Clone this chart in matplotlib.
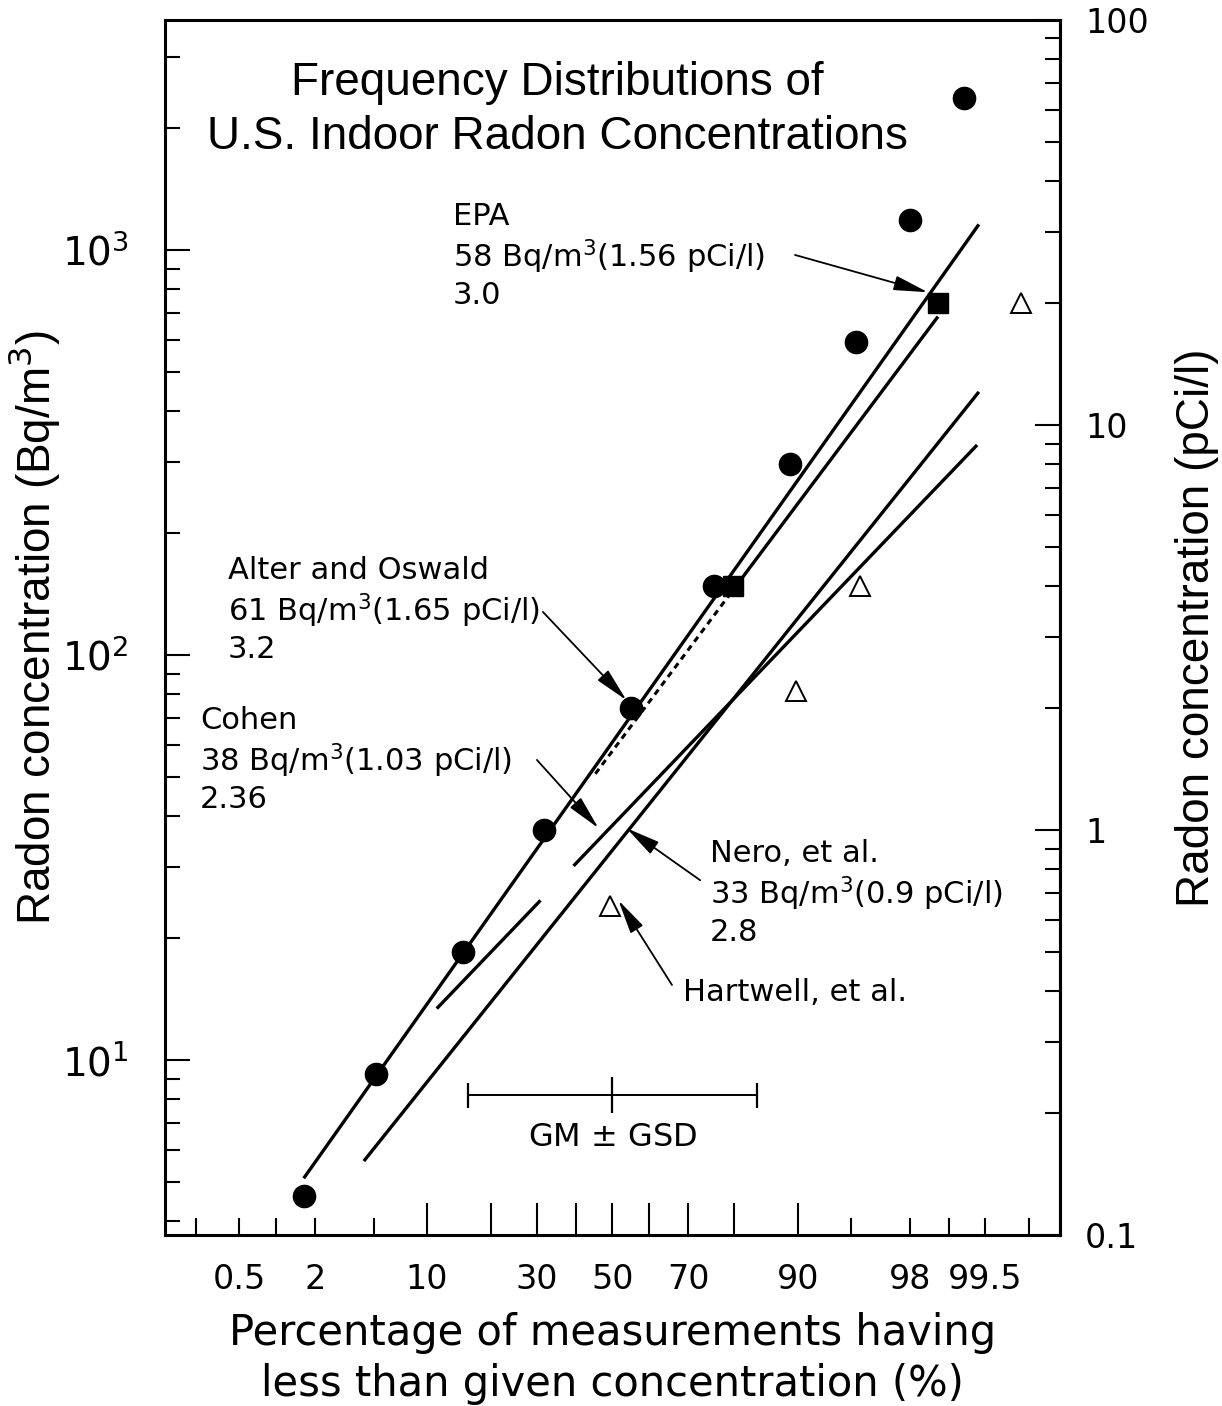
#!/usr/bin/env python3

from statistics import NormalDist

import matplotlib

matplotlib.use("Agg")
import matplotlib.pyplot as plt
import numpy as np
from matplotlib import font_manager
from matplotlib.ticker import FixedLocator, FuncFormatter, NullFormatter


BQ_PER_PCI = 37.0

# measured distributions: cumulative percent vs concentration (Bq/m3)
circle_pct = [1.65, 5.1, 15.1, 31.7, 55.2, 75.9, 89.0, 95.4, 98.0, 99.24]
circle_bq = [4.63, 9.25, 18.5, 37.0, 74.0, 148.0, 296.0, 592.0, 1184.0, 2368.0]
square_pct = [79.8, 98.77]
square_bq = [148.0, 740.0]
triangle_pct = [49.4, 89.7, 95.6, 99.76]
triangle_bq = [24.0, 81.5, 148.0, 740.0]

# lognormal fits (GM in Bq/m3, GSD) and the percent range each line covers
alter_gm, alter_gsd = 61.0, 3.2
alter_span = [1.65, 99.43]
epa_gm, epa_gsd = 58.0, 3.0
epa_dash_span = [45.3, 79.8]
epa_span = [79.8, 98.77]
cohen_gm, cohen_gsd = 38.0, 2.36
cohen_spans = [[11.25, 30.96], [39.4, 99.41]]
nero_gm, nero_gsd = 33.0, 2.8
nero_span = [4.3, 99.43]

# probability axis ticks
long_ticks = [10, 20, 30, 40, 50, 60, 70, 80, 90]
long_labels = ["10", "", "30", "", "50", "", "70", "", "90"]
short_ticks = [0.2, 0.5, 1, 2, 5, 95, 98, 99, 99.5, 99.8]
short_labels = ["", "0.5", "", "2", "", "", "98", "", "99.5", ""]

# right-hand axis (pCi/l)
pci_major = [0.1, 1, 10, 100]
pci_minor = [m * d for d in (0.1, 1, 10) for m in range(2, 10)]

_nd = NormalDist()


def probit(p):
    p = np.clip(np.asarray(p, dtype=float), 1e-9, 100.0 - 1e-9)
    return np.vectorize(lambda v: _nd.inv_cdf(v / 100.0), otypes=[float])(p)


def inv_probit(z):
    z = np.asarray(z, dtype=float)
    return np.vectorize(lambda v: 100.0 * _nd.cdf(v), otypes=[float])(z)


def lognormal_line(pct, gm, gsd):
    pct = np.asarray(pct, dtype=float)
    return pct, gm * gsd ** probit(pct)


def pick_font(*names):
    have = {f.name for f in font_manager.fontManager.ttflist}
    for n in names:
        if n in have:
            return n
    return "DejaVu Sans"


label_font = pick_font("Liberation Sans", "Arial", "DejaVu Sans")
body_font = "DejaVu Sans"

fig = plt.figure(figsize=(12.22, 14.06), dpi=100)
ax = fig.add_axes([0.135, 0.1216, 0.7324, 0.8642])

ax.set_xscale("function", functions=(probit, inv_probit))
ax.set_yscale("log")
ax.set_xlim(0.1, 99.9)
ax.set_ylim(3.7, 3700)

lw = 2.4
x, y = lognormal_line(alter_span, alter_gm, alter_gsd)
ax.plot(x, y, color="black", lw=lw, solid_capstyle="butt")
x, y = lognormal_line(epa_span, epa_gm, epa_gsd)
ax.plot(x, y, color="black", lw=lw, solid_capstyle="butt")
x, y = lognormal_line(epa_dash_span, epa_gm, epa_gsd)
ax.plot(x, y, color="black", lw=2.2, ls=(0, (2.0, 1.6)))
for span in cohen_spans:
    x, y = lognormal_line(span, cohen_gm, cohen_gsd)
    ax.plot(x, y, color="black", lw=lw, solid_capstyle="butt")
x, y = lognormal_line(nero_span, nero_gm, nero_gsd)
ax.plot(x, y, color="black", lw=lw, solid_capstyle="butt")

ax.plot(circle_pct, circle_bq, "o", ms=16, color="black", zorder=5)
ax.plot(square_pct, square_bq, "s", ms=14, color="black", zorder=5)
ax.plot(triangle_pct, triangle_bq, "^", ms=15, mfc="white", mec="black", mew=1.4, zorder=5)

# GM +/- GSD scale bar (one standard deviation either side of the median)
bar = ax.get_xaxis_transform()
lo, hi = inv_probit(-1.0), inv_probit(1.0)
ax.plot([lo, hi], [0.115, 0.115], color="black", lw=1.4, transform=bar)
ax.plot([lo, hi], [0.115, 0.115], "|", ms=18, mew=1.6, color="black", transform=bar)
ax.plot([50], [0.115], "|", ms=26, mew=1.6, color="black", transform=bar)
ax.text(50, 0.08, r"GM $\pm$ GSD", transform=bar, ha="center", va="center",
        fontsize=23, family=body_font)

# study labels and their pointers
notes = [
    ("EPA\n58 Bq/m$^3$(1.56 pCi/l)\n3.0", (0.3218, 0.8058), (0.704, 0.8066), (98.53, 787)),
    ("Alter and Oswald\n61 Bq/m$^3$(1.65 pCi/l)\n3.2", (0.0704, 0.5144), (0.4223, 0.5128), (53.85, 77.4)),
    ("Cohen\n38 Bq/m$^3$(1.03 pCi/l)\n2.36", (0.0391, 0.391), (0.4156, 0.391), (46.15, 37.4)),
    ("Nero, et al.\n33 Bq/m$^3$(0.9 pCi/l)\n2.8", (0.609, 0.2815), (0.598, 0.292), (53.85, 37.4)),
    ("Hartwell, et al.", (0.5788, 0.1992), (0.5665, 0.2058), (51.65, 24.8)),
]
for text, pos, tail, tip in notes:
    ax.text(pos[0], pos[1], text, transform=ax.transAxes, ha="left", va="center",
            fontsize=22, family=body_font, linespacing=1.22)
    ax.annotate("", xy=tip, xycoords="data", xytext=tail, textcoords="axes fraction",
                arrowprops=dict(arrowstyle="-|>,head_length=1.5,head_width=0.32",
                                mutation_scale=14, color="black", lw=1.3,
                                shrinkA=0, shrinkB=0))

ax.text(0.438, 0.926, "Frequency Distributions of\nU.S. Indoor Radon Concentrations",
        transform=ax.transAxes, ha="center", va="center", fontsize=33,
        family=label_font, linespacing=1.3)

# axes, ticks and labels
for s in ax.spines.values():
    s.set_linewidth(2.2)

ax.set_xticks(long_ticks, labels=long_labels)
ax.set_xticks(short_ticks, labels=short_labels, minor=True)
ax.tick_params(axis="x", which="both", direction="in", top=False, width=1.5,
               labelsize=24, pad=20)
ax.tick_params(axis="x", which="major", length=23)
ax.tick_params(axis="x", which="minor", length=12)
for lab in ax.get_xticklabels(minor=True):
    lab.set_fontsize(24)

ax.yaxis.set_minor_formatter(NullFormatter())
ax.tick_params(axis="y", which="both", direction="in", right=False, width=1.5,
               labelsize=28, pad=26)
ax.tick_params(axis="y", which="major", length=18)
ax.tick_params(axis="y", which="minor", length=11)

sec = ax.secondary_yaxis("right", functions=(lambda b: b / BQ_PER_PCI, lambda p: p * BQ_PER_PCI))
sec.yaxis.set_major_locator(FixedLocator(pci_major))
sec.yaxis.set_minor_locator(FixedLocator(pci_minor))
sec.yaxis.set_major_formatter(FuncFormatter(lambda v, pos: f"{v:g}"))
sec.yaxis.set_minor_formatter(NullFormatter())
sec.spines["right"].set_linewidth(2.2)
sec.tick_params(axis="y", which="both", direction="in", width=1.5, labelsize=24, pad=18)
sec.tick_params(axis="y", which="major", length=18)
sec.tick_params(axis="y", which="minor", length=11)

ax.set_ylabel("Radon concentration (Bq/m$^3$)", fontsize=33, family=label_font, labelpad=0)
sec.set_ylabel("Radon concentration (pCi/l)", fontsize=33, family=label_font, labelpad=19)
ax.set_xlabel("Percentage of measurements having\nless than given concentration (%)",
              fontsize=30, family=body_font, linespacing=1.25, labelpad=12)

fig.savefig("out.png", dpi=100)
